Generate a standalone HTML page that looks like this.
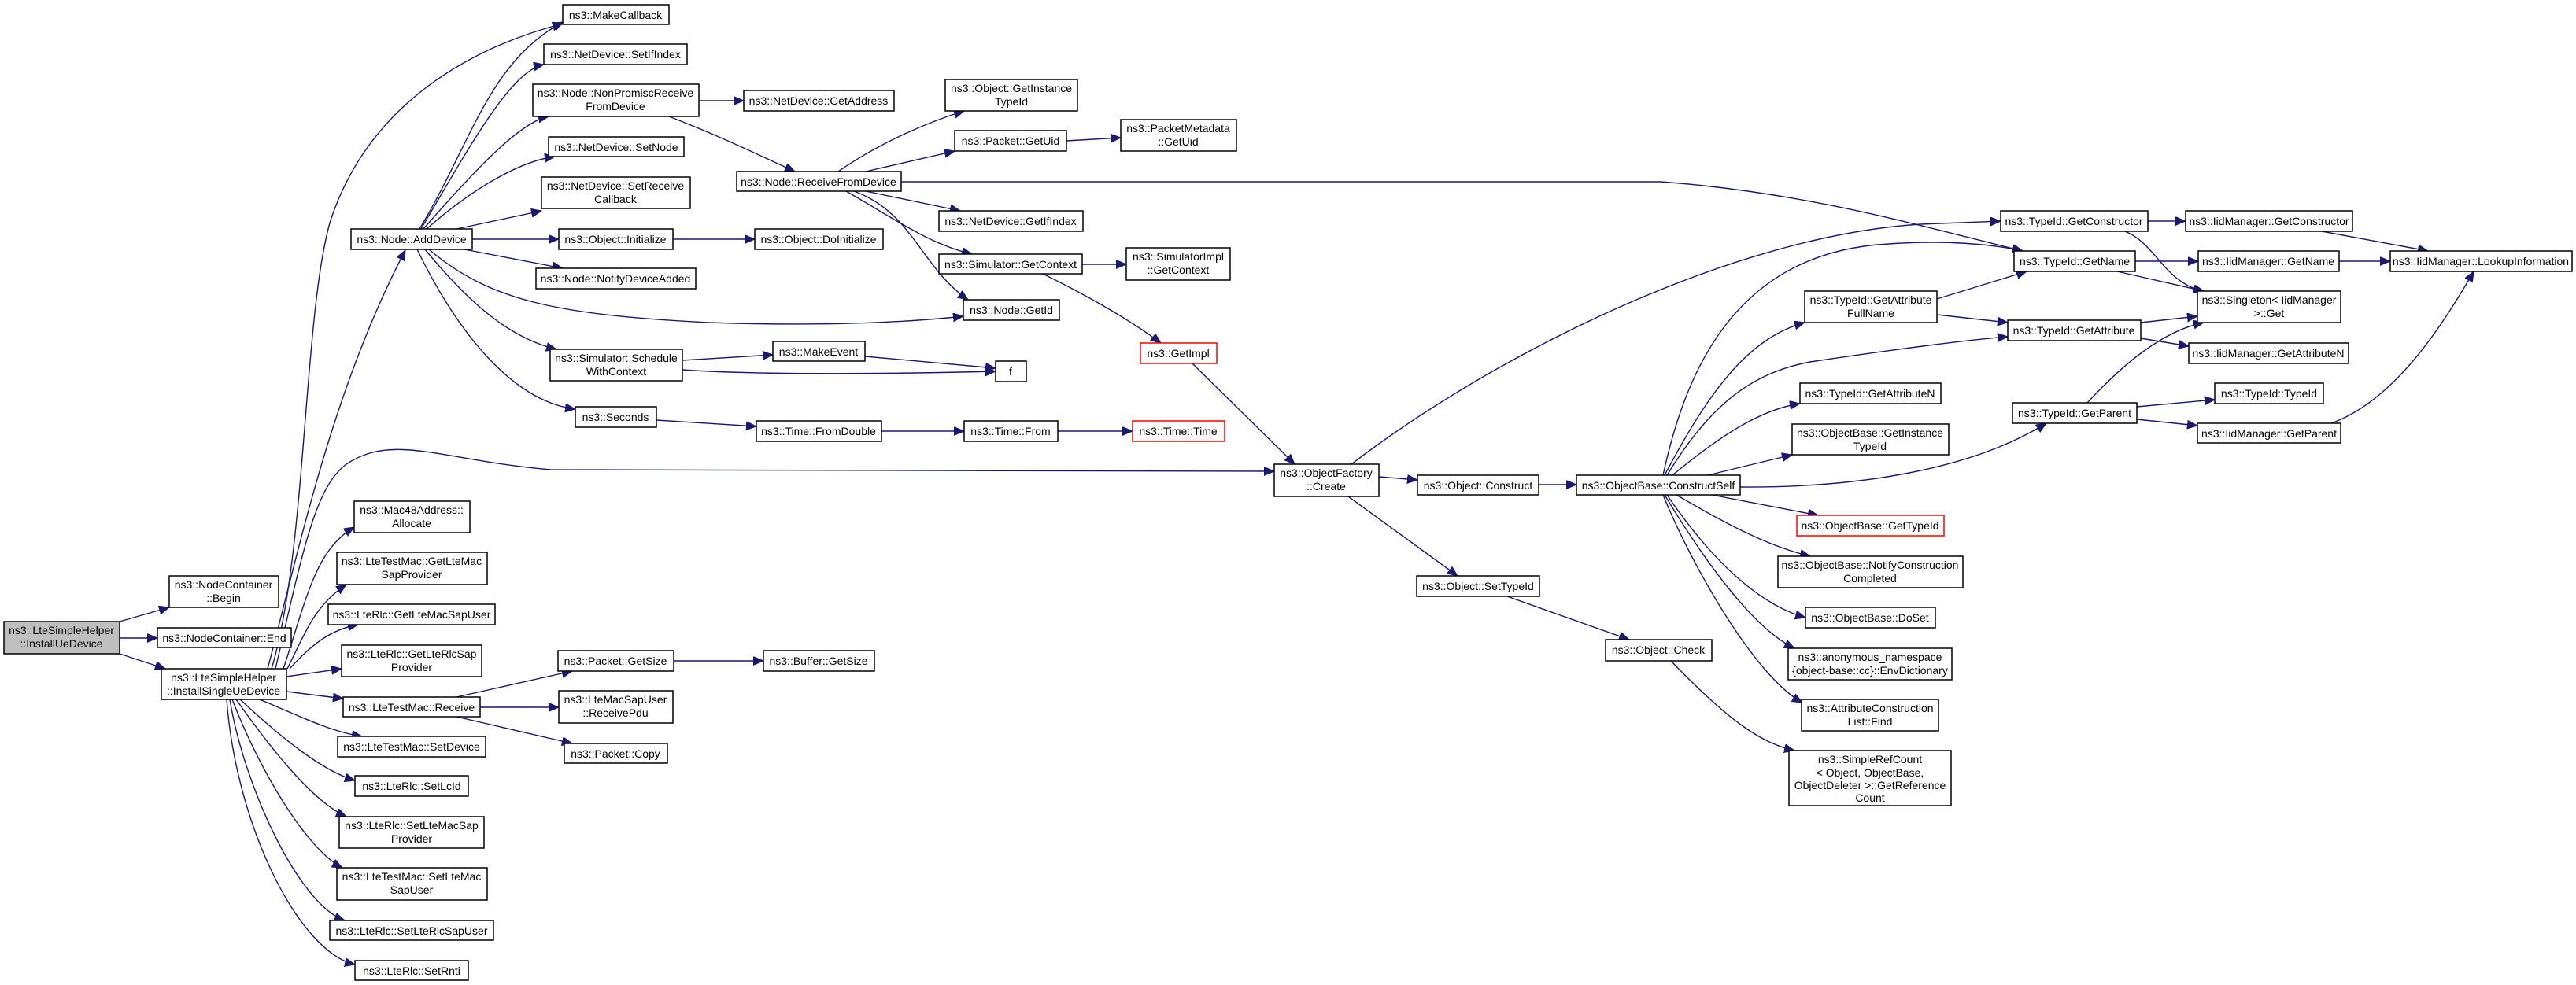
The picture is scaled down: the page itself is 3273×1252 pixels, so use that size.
<!DOCTYPE html>
<html><head><meta charset="utf-8"><style>
html,body{margin:0;padding:0;background:#fff;}
svg{display:block;}
text{font-family:"Liberation Sans",Arial,sans-serif;font-size:14px;fill:#000;text-anchor:middle;}
.e{fill:none;stroke:#191970;stroke-width:1.4;marker-end:url(#a);}
.n{fill:#fff;stroke:#000;stroke-width:1.5;}
.r{fill:#fff;stroke:#ff0000;stroke-width:1.5;}
.g{fill:#bfbfbf;stroke:#000;stroke-width:1.5;}
</style></head><body>
<svg width="3273" height="1252" viewBox="0 0 3273 1252" xmlns="http://www.w3.org/2000/svg">
<defs><marker id="a" markerUnits="userSpaceOnUse" markerWidth="14" markerHeight="12" refX="13" refY="5.5" orient="auto"><path d="M0,0 L13,5.5 L0,11 z" fill="#191970" stroke="#191970"/></marker></defs>

<!-- edges -->
<path class="e" d="M152,790 L215,772"/>
<path class="e" d="M152,811 L200,811"/>
<path class="e" d="M152,831 L210,850"/>
<path class="e" d="M340,850 C380,700 420,500 515,318"/>
<path class="e" d="M345,850 C390,700 385,400 420,280 C470,130 600,60 715,30"/>
<path class="e" d="M350,850 C385,700 400,620 440,590 C500,550 560,585 700,597 L1619,599"/>
<path class="e" d="M360,850 C390,760 400,700 450,670"/>
<path class="e" d="M365,850 C390,800 400,770 440,743"/>
<path class="e" d="M368,850 C395,820 420,800 455,794"/>
<path class="e" d="M364,860 L434,850"/>
<path class="e" d="M364,879 L436,888"/>
<path class="e" d="M330,889 C380,910 420,930 460,936"/>
<path class="e" d="M305,889 C360,940 410,980 451,992"/>
<path class="e" d="M300,889 C350,960 400,1020 440,1038"/>
<path class="e" d="M295,889 C330,980 390,1080 435,1103"/>
<path class="e" d="M292,889 C310,1000 380,1150 438,1170"/>
<path class="e" d="M288,889 C300,1050 380,1210 451,1226"/>

<path class="e" d="M533,291 C600,180 620,80 715,28"/>
<path class="e" d="M535,291 C600,180 650,90 691,82"/>
<path class="e" d="M538,291 C600,220 660,155 697,148"/>
<path class="e" d="M542,291 C600,240 660,205 705,199"/>
<path class="e" d="M580,291 L688,268"/>
<path class="e" d="M600,304 L710,304"/>
<path class="e" d="M590,317 L715,341"/>
<path class="e" d="M545,317 C620,380 700,400 900,410 C1050,415 1150,410 1224,402"/>
<path class="e" d="M540,317 C600,390 650,430 707,444"/>
<path class="e" d="M530,317 C580,420 650,510 731,520"/>

<path class="e" d="M888,128 L945,128"/>
<path class="e" d="M850,148 C920,175 970,200 1010,218"/>
<path class="e" d="M1065,218 C1120,180 1180,155 1225,141"/>
<path class="e" d="M1100,218 L1213,192"/>
<path class="e" d="M1100,243 L1220,268"/>
<path class="e" d="M1075,243 C1140,280 1180,310 1235,323"/>
<path class="e" d="M1085,243 C1160,270 1170,340 1230,381"/>
<path class="e" d="M1145,231 L2110,231 C2300,245 2450,290 2570,319"/>
<path class="e" d="M1355,179 L1424,175"/>
<path class="e" d="M1375,336 L1431,336"/>
<path class="e" d="M1325,348 C1390,380 1440,410 1475,436"/>
<path class="e" d="M1515,462 L1645,590"/>
<path class="e" d="M867,458 L982,451"/>
<path class="e" d="M867,470 C950,476 1100,476 1265,472"/>
<path class="e" d="M1099,453 L1265,468"/>
<path class="e" d="M834,534 L961,542"/>
<path class="e" d="M1120,548 L1225,548"/>
<path class="e" d="M1344,548 L1439,548"/>
<path class="e" d="M855,304 L959,304"/>
<path class="e" d="M856,840 L970,840"/>
<path class="e" d="M580,886 L727,853"/>
<path class="e" d="M610,899 L710,899"/>
<path class="e" d="M580,911 L727,945"/>

<path class="e" d="M1752,606 L1801,610"/>
<path class="e" d="M1713,631 L1852,732"/>
<path class="e" d="M1717,590 C1900,450 2200,300 2440,285 L2542,281"/>
<path class="e" d="M1955,616 L2003,616"/>
<path class="e" d="M1915,758 L2070,813"/>
<path class="e" d="M2123,840 C2200,920 2240,945 2280,954"/>
<path class="e" d="M2113,604 C2140,480 2200,320 2400,310 C2470,305 2530,310 2570,319"/>
<path class="e" d="M2115,604 C2170,500 2220,430 2293,410"/>
<path class="e" d="M2118,604 C2170,520 2220,475 2300,460 C2400,445 2500,432 2551,428"/>
<path class="e" d="M2125,604 C2190,550 2240,520 2287,513"/>
<path class="e" d="M2170,604 L2277,578"/>
<path class="e" d="M2211,619 C2350,620 2500,600 2600,538"/>
<path class="e" d="M2175,629 L2310,655"/>
<path class="e" d="M2130,629 C2200,670 2250,695 2300,707"/>
<path class="e" d="M2118,629 C2180,720 2240,770 2294,785"/>
<path class="e" d="M2115,629 C2170,720 2230,800 2280,824"/>
<path class="e" d="M2113,629 C2150,720 2230,860 2290,893"/>
<path class="e" d="M2461,380 L2575,345"/>
<path class="e" d="M2461,400 L2551,410"/>
<path class="e" d="M2729,281 L2777,281"/>
<path class="e" d="M2700,294 C2740,310 2750,360 2800,370"/>
<path class="e" d="M2713,332 L2793,332"/>
<path class="e" d="M2690,345 L2800,370"/>
<path class="e" d="M2950,294 L3085,319"/>
<path class="e" d="M2972,332 L3037,332"/>
<path class="e" d="M2720,410 L2792,402"/>
<path class="e" d="M2720,430 L2781,440"/>
<path class="e" d="M2652,512 C2700,460 2750,420 2800,410"/>
<path class="e" d="M2715,517 L2814,508"/>
<path class="e" d="M2715,533 L2792,541"/>
<path class="e" d="M2962,538 C3040,510 3100,420 3143,345"/>

<!-- nodes -->
<rect class="g" x="5" y="790" width="147" height="41"/><text x="78" y="806">ns3::LteSimpleHelper</text><text x="78" y="823">::InstallUeDevice</text>
<rect class="n" x="215" y="732" width="139" height="40"/><text x="284" y="748">ns3::NodeContainer</text><text x="284" y="765">::Begin</text>
<rect class="n" x="200" y="798" width="170" height="25"/><text x="285" y="816">ns3::NodeContainer::End</text>
<rect class="n" x="205" y="850" width="159" height="39"/><text x="284" y="866">ns3::LteSimpleHelper</text><text x="284" y="883">::InstallSingleUeDevice</text>

<rect class="n" x="715" y="6" width="135" height="25"/><text x="782" y="24">ns3::MakeCallback</text>
<rect class="n" x="691" y="56" width="182" height="26"/><text x="782" y="74">ns3::NetDevice::SetIfIndex</text>
<rect class="n" x="677" y="107" width="211" height="41"/><text x="782" y="123">ns3::Node::NonPromiscReceive</text><text x="782" y="140">FromDevice</text>
<rect class="n" x="697" y="174" width="172" height="25"/><text x="783" y="192">ns3::NetDevice::SetNode</text>
<rect class="n" x="688" y="225" width="189" height="40"/><text x="782" y="241">ns3::NetDevice::SetReceive</text><text x="782" y="258">Callback</text>
<rect class="n" x="710" y="291" width="145" height="26"/><text x="782" y="309">ns3::Object::Initialize</text>
<rect class="n" x="681" y="341" width="203" height="26"/><text x="782" y="359">ns3::Node::NotifyDeviceAdded</text>
<rect class="n" x="699" y="444" width="168" height="40"/><text x="783" y="460">ns3::Simulator::Schedule</text><text x="783" y="477">WithContext</text>
<rect class="n" x="731" y="517" width="103" height="26"/><text x="782" y="535">ns3::Seconds</text>
<rect class="n" x="446" y="291" width="154" height="26"/><text x="523" y="309">ns3::Node::AddDevice</text>

<rect class="n" x="450" y="637" width="147" height="40"/><text x="523" y="653">ns3::Mac48Address::</text><text x="523" y="670">Allocate</text>
<rect class="n" x="428" y="702" width="191" height="41"/><text x="523" y="718">ns3::LteTestMac::GetLteMac</text><text x="523" y="735">SapProvider</text>
<rect class="n" x="417" y="768" width="212" height="26"/><text x="523" y="786">ns3::LteRlc::GetLteMacSapUser</text>
<rect class="n" x="434" y="820" width="178" height="40"/><text x="523" y="836">ns3::LteRlc::GetLteRlcSap</text><text x="523" y="853">Provider</text>
<rect class="n" x="436" y="886" width="174" height="25"/><text x="523" y="904">ns3::LteTestMac::Receive</text>
<rect class="n" x="429" y="936" width="188" height="26"/><text x="523" y="954">ns3::LteTestMac::SetDevice</text>
<rect class="n" x="451" y="986" width="144" height="26"/><text x="523" y="1004">ns3::LteRlc::SetLcId</text>
<rect class="n" x="431" y="1038" width="184" height="40"/><text x="523" y="1054">ns3::LteRlc::SetLteMacSap</text><text x="523" y="1071">Provider</text>
<rect class="n" x="428" y="1103" width="191" height="41"/><text x="523" y="1119">ns3::LteTestMac::SetLteMac</text><text x="523" y="1136">SapUser</text>
<rect class="n" x="419" y="1170" width="208" height="25"/><text x="523" y="1188">ns3::LteRlc::SetLteRlcSapUser</text>
<rect class="n" x="451" y="1221" width="144" height="25"/><text x="523" y="1239">ns3::LteRlc::SetRnti</text>

<rect class="n" x="709" y="827" width="147" height="26"/><text x="782" y="845">ns3::Packet::GetSize</text>
<rect class="n" x="710" y="878" width="145" height="41"/><text x="782" y="894">ns3::LteMacSapUser</text><text x="782" y="911">::ReceivePdu</text>
<rect class="n" x="717" y="945" width="131" height="25"/><text x="782" y="963">ns3::Packet::Copy</text>
<rect class="n" x="970" y="827" width="141" height="26"/><text x="1040" y="845">ns3::Buffer::GetSize</text>

<rect class="n" x="945" y="115" width="191" height="26"/><text x="1040" y="133">ns3::NetDevice::GetAddress</text>
<rect class="n" x="1201" y="101" width="168" height="40"/><text x="1285" y="117">ns3::Object::GetInstance</text><text x="1285" y="134">TypeId</text>
<rect class="n" x="1213" y="166" width="142" height="26"/><text x="1284" y="184">ns3::Packet::GetUid</text>
<rect class="n" x="1424" y="152" width="147" height="40"/><text x="1497" y="168">ns3::PacketMetadata</text><text x="1497" y="185">::GetUid</text>
<rect class="n" x="936" y="218" width="209" height="25"/><text x="1040" y="236">ns3::Node::ReceiveFromDevice</text>
<rect class="n" x="1193" y="268" width="183" height="26"/><text x="1284" y="286">ns3::NetDevice::GetIfIndex</text>
<rect class="n" x="959" y="291" width="163" height="26"/><text x="1040" y="309">ns3::Object::DoInitialize</text>
<rect class="n" x="1193" y="323" width="182" height="25"/><text x="1284" y="341">ns3::Simulator::GetContext</text>
<rect class="n" x="1431" y="315" width="132" height="41"/><text x="1497" y="331">ns3::SimulatorImpl</text><text x="1497" y="348">::GetContext</text>
<rect class="n" x="1224" y="381" width="122" height="26"/><text x="1285" y="399">ns3::Node::GetId</text>
<rect class="r" x="1449" y="436" width="97" height="26"/><text x="1497" y="454">ns3::GetImpl</text>
<rect class="n" x="982" y="434" width="117" height="25"/><text x="1040" y="452">ns3::MakeEvent</text>
<rect class="n" x="1265" y="459" width="39" height="26"/><text x="1284" y="477">f</text>
<rect class="n" x="961" y="535" width="159" height="26"/><text x="1040" y="553">ns3::Time::FromDouble</text>
<rect class="n" x="1225" y="535" width="119" height="26"/><text x="1284" y="553">ns3::Time::From</text>
<rect class="r" x="1439" y="535" width="117" height="26"/><text x="1497" y="553">ns3::Time::Time</text>

<rect class="n" x="1619" y="590" width="133" height="41"/><text x="1685" y="606">ns3::ObjectFactory</text><text x="1685" y="623">::Create</text>
<rect class="n" x="1801" y="604" width="154" height="25"/><text x="1878" y="622">ns3::Object::Construct</text>
<rect class="n" x="2003" y="604" width="208" height="25"/><text x="2107" y="622">ns3::ObjectBase::ConstructSelf</text>
<rect class="n" x="1800" y="732" width="156" height="26"/><text x="1878" y="750">ns3::Object::SetTypeId</text>
<rect class="n" x="2040" y="813" width="135" height="27"/><text x="2107" y="831">ns3::Object::Check</text>

<rect class="n" x="2293" y="370" width="168" height="40"/><text x="2377" y="386">ns3::TypeId::GetAttribute</text><text x="2377" y="403">FullName</text>
<rect class="n" x="2287" y="487" width="179" height="26"/><text x="2376" y="505">ns3::TypeId::GetAttributeN</text>
<rect class="n" x="2277" y="539" width="199" height="39"/><text x="2376" y="555">ns3::ObjectBase::GetInstance</text><text x="2376" y="572">TypeId</text>
<rect class="r" x="2283" y="655" width="187" height="26"/><text x="2376" y="673">ns3::ObjectBase::GetTypeId</text>
<rect class="n" x="2259" y="707" width="235" height="40"/><text x="2376" y="723">ns3::ObjectBase::NotifyConstruction</text><text x="2376" y="740">Completed</text>
<rect class="n" x="2294" y="772" width="165" height="26"/><text x="2376" y="790">ns3::ObjectBase::DoSet</text>
<rect class="n" x="2272" y="824" width="208" height="40"/><text x="2376" y="840">ns3::anonymous_namespace</text><text x="2376" y="857">{object-base::cc}::EnvDictionary</text>
<rect class="n" x="2289" y="889" width="174" height="40"/><text x="2376" y="905">ns3::AttributeConstruction</text><text x="2376" y="922">List::Find</text>
<rect class="n" x="2273" y="954" width="206" height="70"/><text x="2376" y="970">ns3::SimpleRefCount</text><text x="2376" y="987">&lt; Object, ObjectBase,</text><text x="2376" y="1003">ObjectDeleter &gt;::GetReference</text><text x="2376" y="1019">Count</text>

<rect class="n" x="2542" y="268" width="187" height="26"/><text x="2635" y="286">ns3::TypeId::GetConstructor</text>
<rect class="n" x="2777" y="268" width="212" height="26"/><text x="2883" y="286">ns3::IidManager::GetConstructor</text>
<rect class="n" x="2559" y="319" width="154" height="26"/><text x="2636" y="337">ns3::TypeId::GetName</text>
<rect class="n" x="2793" y="319" width="179" height="26"/><text x="2882" y="337">ns3::IidManager::GetName</text>
<rect class="n" x="3037" y="319" width="231" height="26"/><text x="3152" y="337">ns3::IidManager::LookupInformation</text>
<rect class="n" x="2792" y="370" width="182" height="40"/><text x="2883" y="386">ns3::Singleton&lt; IidManager</text><text x="2883" y="403">&gt;::Get</text>
<rect class="n" x="2551" y="407" width="169" height="26"/><text x="2635" y="425">ns3::TypeId::GetAttribute</text>
<rect class="n" x="2781" y="436" width="203" height="26"/><text x="2882" y="454">ns3::IidManager::GetAttributeN</text>
<rect class="n" x="2814" y="487" width="138" height="26"/><text x="2883" y="505">ns3::TypeId::TypeId</text>
<rect class="n" x="2557" y="512" width="158" height="26"/><text x="2636" y="530">ns3::TypeId::GetParent</text>
<rect class="n" x="2792" y="538" width="182" height="25"/><text x="2883" y="556">ns3::IidManager::GetParent</text>
</svg>
</body></html>
